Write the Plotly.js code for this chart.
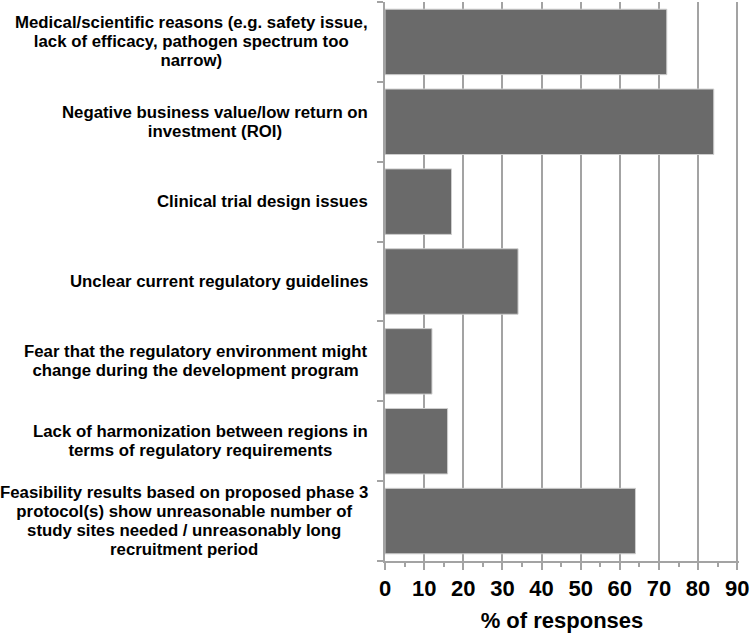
<!DOCTYPE html>
<html>
<head>
<meta charset="utf-8">
<script src="https://cdn.plot.ly/plotly-3.0.1.min.js"></script>
<style>html,body{margin:0;padding:0;background:#fff;}#chart{width:750px;height:636px;}</style>
</head>
<body>
<div id="chart"></div>
<script>
const categories = [
  "Medical/scientific reasons (e.g. safety issue,<br>lack of efficacy, pathogen spectrum too<br>narrow)",
  "Negative business value/low return on<br>investment (ROI)",
  "Clinical trial design issues",
  "Unclear current regulatory guidelines",
  "Fear that the regulatory environment might<br>change during the development program",
  "Lack of harmonization between regions in<br>terms of regulatory requirements",
  "Feasibility results based on proposed phase 3<br>protocol(s) show unreasonable number of<br>study sites needed / unreasonably long<br>recruitment period"
];
const values = [72, 84, 17, 34, 12, 16, 64];
const xTicks = [0, 10, 20, 30, 40, 50, 60, 70, 80, 90];
const xTitle = "% of responses";

const font = "Liberation Sans, Arial, Helvetica, sans-serif";
const gray = "#a3a3a3";
const labelSize = 16.8;
const lineSpacing = 1.14; // em, tighter than Plotly's 1.3

const trace = {
  type: "bar",
  orientation: "h",
  y: categories.map((c, i) => i),
  x: values,
  marker: {color: "#6a6a6a", line: {color: "#cfcfcf", width: 1}},
  hoverinfo: "x"
};

const annotations = categories.map((c, i) => {
  const n = c.split("<br>").length;
  return {
    xref: "paper", yref: "y",
    x: 0, y: i,
    xshift: -15.5,
    yshift: -(n - 1) * (1.3 - lineSpacing) * labelSize / 2,
    xanchor: "right", yanchor: "middle",
    align: "center",
    showarrow: false,
    text: c,
    font: {family: font, size: labelSize, weight: "bold", color: "#000"}
  };
});

const layout = {
  width: 750, height: 636,
  margin: {l: 384.5, r: 10.5, t: 2, b: 75.3},
  paper_bgcolor: "#fff", plot_bgcolor: "#fff",
  showlegend: false,
  bargap: 0.18,
  xaxis: {
    range: [0, 90.45],
    tickvals: xTicks,
    ticktext: xTicks.map(String),
    ticklabeloverflow: "allow",
    ticks: "outside", ticklen: 7, tickwidth: 2, tickcolor: gray,
    minor: {dtick: 5, tick0: 0, ticks: "outside", ticklen: 4, tickwidth: 2, tickcolor: gray, showgrid: false},
    showgrid: true, gridcolor: gray, gridwidth: 2,
    showline: true, linecolor: gray, linewidth: 2,
    zeroline: false,
    tickfont: {family: font, size: 22, weight: "bold", color: "#000"},
    title: {text: xTitle, font: {family: font, size: 22, weight: "bold", color: "#000"}, standoff: 12}
  },
  yaxis: {
    type: "linear",
    range: [6.5, -0.5],
    tickvals: categories.map((c, i) => i - 0.5).concat([6.5]),
    showticklabels: false,
    ticks: "outside", ticklen: 6, tickwidth: 2, tickcolor: gray,
    showgrid: false,
    showline: true, linecolor: gray, linewidth: 2,
    zeroline: false
  },
  annotations: annotations
};

Plotly.newPlot("chart", [trace], layout, {displayModeBar: false, staticPlot: true}).then(gd => {
  gd.querySelectorAll(".annotation-text tspan.line").forEach(t => {
    const dy = parseFloat(t.getAttribute("dy") || "0");
    t.setAttribute("dy", (dy / 1.3 * lineSpacing) + "em");
  });
});
</script>
</body>
</html>
